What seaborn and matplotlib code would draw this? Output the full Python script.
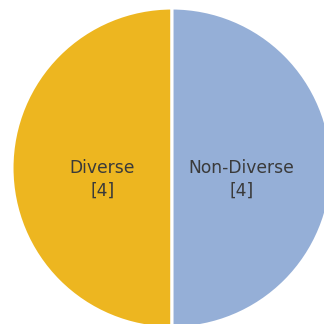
import numpy as np
import matplotlib
matplotlib.use("Agg")
import matplotlib.pyplot as plt
import seaborn as sns

categories = ["Diverse", "Non-Diverse"]
counts = [4, 4]
colors = ["#EDB620", "#95AFD7"]

sns.set_style("white")
plt.rcParams['font.family'] = ['DejaVu Sans']

fig = plt.figure(figsize=(3.24, 3.24), dpi=100)
ax = fig.add_axes([0, 0, 1, 1])
wedges, _ = ax.pie(counts, colors=colors, startangle=90, counterclock=True,
                   radius=1.0, center=(0, 0),
                   wedgeprops=dict(edgecolor="white", linewidth=2.2))
for w, cat, n in zip(wedges, categories, counts):
    mid = np.deg2rad((w.theta1 + w.theta2) / 2)
    x = 0.435 * np.cos(mid)
    y = 0.435 * np.sin(mid) - 0.072
    ax.text(x, y, f"{cat}\n[{n}]", ha="center", va="center",
            fontsize=12.3, color="#3a3a3a", linespacing=1.3)
ax.set_xlim(-1.075, 0.95)
ax.set_ylim(-0.975, 1.05)
ax.set_aspect("equal")
ax.axis("off")
fig.savefig("out.png", dpi=100)
